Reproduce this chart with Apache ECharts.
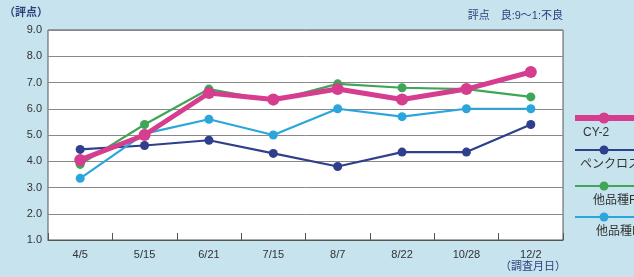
<!DOCTYPE html>
<html>
<head>
<meta charset="utf-8">
<script src="https://cdn.jsdelivr.net/npm/echarts@6/dist/echarts.min.js"></script>
<style>
  html, body { margin: 0; padding: 0; background: #c6e3ee; }
  #chart { width: 634px; height: 277px; }
</style>
</head>
<body>
<div id="chart"></div>
<script>
// 調査月日
var dates = ['4/5', '5/15', '6/21', '7/15', '8/7', '8/22', '10/28', '12/2'];

// 評点
var cy2      = [4.05, 5.0, 6.6, 6.35, 6.75, 6.35, 6.75, 7.4];
var penncross = [4.45, 4.6, 4.8, 4.3, 3.8, 4.35, 4.35, 5.4];
var otherF   = [3.88, 5.4, 6.75, 6.3, 6.95, 6.8, 6.75, 6.45];
var otherI   = [3.35, 5.05, 5.6, 5.0, 6.0, 5.7, 6.0, 6.0];

var names = ['CY-2', 'ペンクロス', '他品種F', '他品種I'];
var colors = ['#d63d8e', '#2f3f8c', '#3ea656', '#2aa6dc'];

var font = 'Arial, "Liberation Sans", "Noto Sans CJK JP", sans-serif';
var navyText = '#2d3f7c';

function thinLine(name, data, color) {
    return {
        name: name,
        type: 'line',
        data: data,
        symbol: 'circle',
        symbolSize: 9,
        lineStyle: { width: 2.2, color: color },
        itemStyle: { color: color },
        z: 3
    };
}

// 凡例（線＋丸、下に名前）
function legendItem(y, color, text, textX, thick) {
    return [
        { type: 'line', shape: { x1: 575, y1: y, x2: 640, y2: y },
          style: { stroke: color, lineWidth: thick ? 6 : 2.2 } },
        { type: 'circle', shape: { cx: 604, cy: y, r: thick ? 5.5 : 4.5 },
          style: { fill: color } },
        { type: 'text', x: textX, y: y + 15,
          style: { text: text, fill: '#333', font: '12px ' + font, textVerticalAlign: 'middle' } }
    ];
}

var chart = echarts.init(document.getElementById('chart'));

var option = {
    backgroundColor: '#c6e3ee',
    animation: false,
    grid: {
        left: 48, right: 71, top: 30, bottom: 37,
        show: true,
        backgroundColor: '#fff',
        borderColor: '#555',
        borderWidth: 1
    },
    xAxis: {
        type: 'category',
        data: dates,
        boundaryGap: true,
        axisLine: { show: true, lineStyle: { color: '#555', width: 1 } },
        axisTick: { show: true, inside: true, length: 7, lineStyle: { color: '#555' } },
        axisLabel: { color: '#333', fontSize: 11, fontFamily: font, margin: 9 }
    },
    yAxis: {
        type: 'value',
        min: 1, max: 9, interval: 1,
        axisLine: { show: false },
        axisTick: { show: false },
        axisLabel: {
            color: '#333', fontSize: 11, fontFamily: font, margin: 6,
            formatter: function (v) { return v.toFixed(1); }
        },
        splitLine: { lineStyle: { color: '#888', width: 1 } }
    },
    series: [
        thinLine(names[1], penncross, colors[1]),
        thinLine(names[2], otherF, colors[2]),
        thinLine(names[3], otherI, colors[3]),
        {
            name: names[0],
            type: 'line',
            data: cy2,
            symbol: 'circle',
            symbolSize: 12,
            lineStyle: { width: 5, color: colors[0] },
            itemStyle: { color: colors[0] },
            z: 5
        }
    ],
    graphic: [
        { type: 'text', left: 4, top: 7,
          style: { text: '（評点）', fill: navyText, font: 'bold 11px ' + font } },
        { type: 'text', right: 71, top: 10,
          style: { text: '評点　良:9～1:不良', fill: navyText, font: '11px ' + font } },
        { type: 'text', left: 500, top: 261,
          style: { text: '（調査月日）', fill: navyText, font: '11px ' + font } }
    ]
        .concat(legendItem(118, colors[0], names[0], 583, true))
        .concat(legendItem(150, colors[1], names[1], 580, false))
        .concat(legendItem(186, colors[2], names[2], 593, false))
        .concat(legendItem(217, colors[3], names[3], 596, false))
};

chart.setOption(option);
</script>
</body>
</html>
